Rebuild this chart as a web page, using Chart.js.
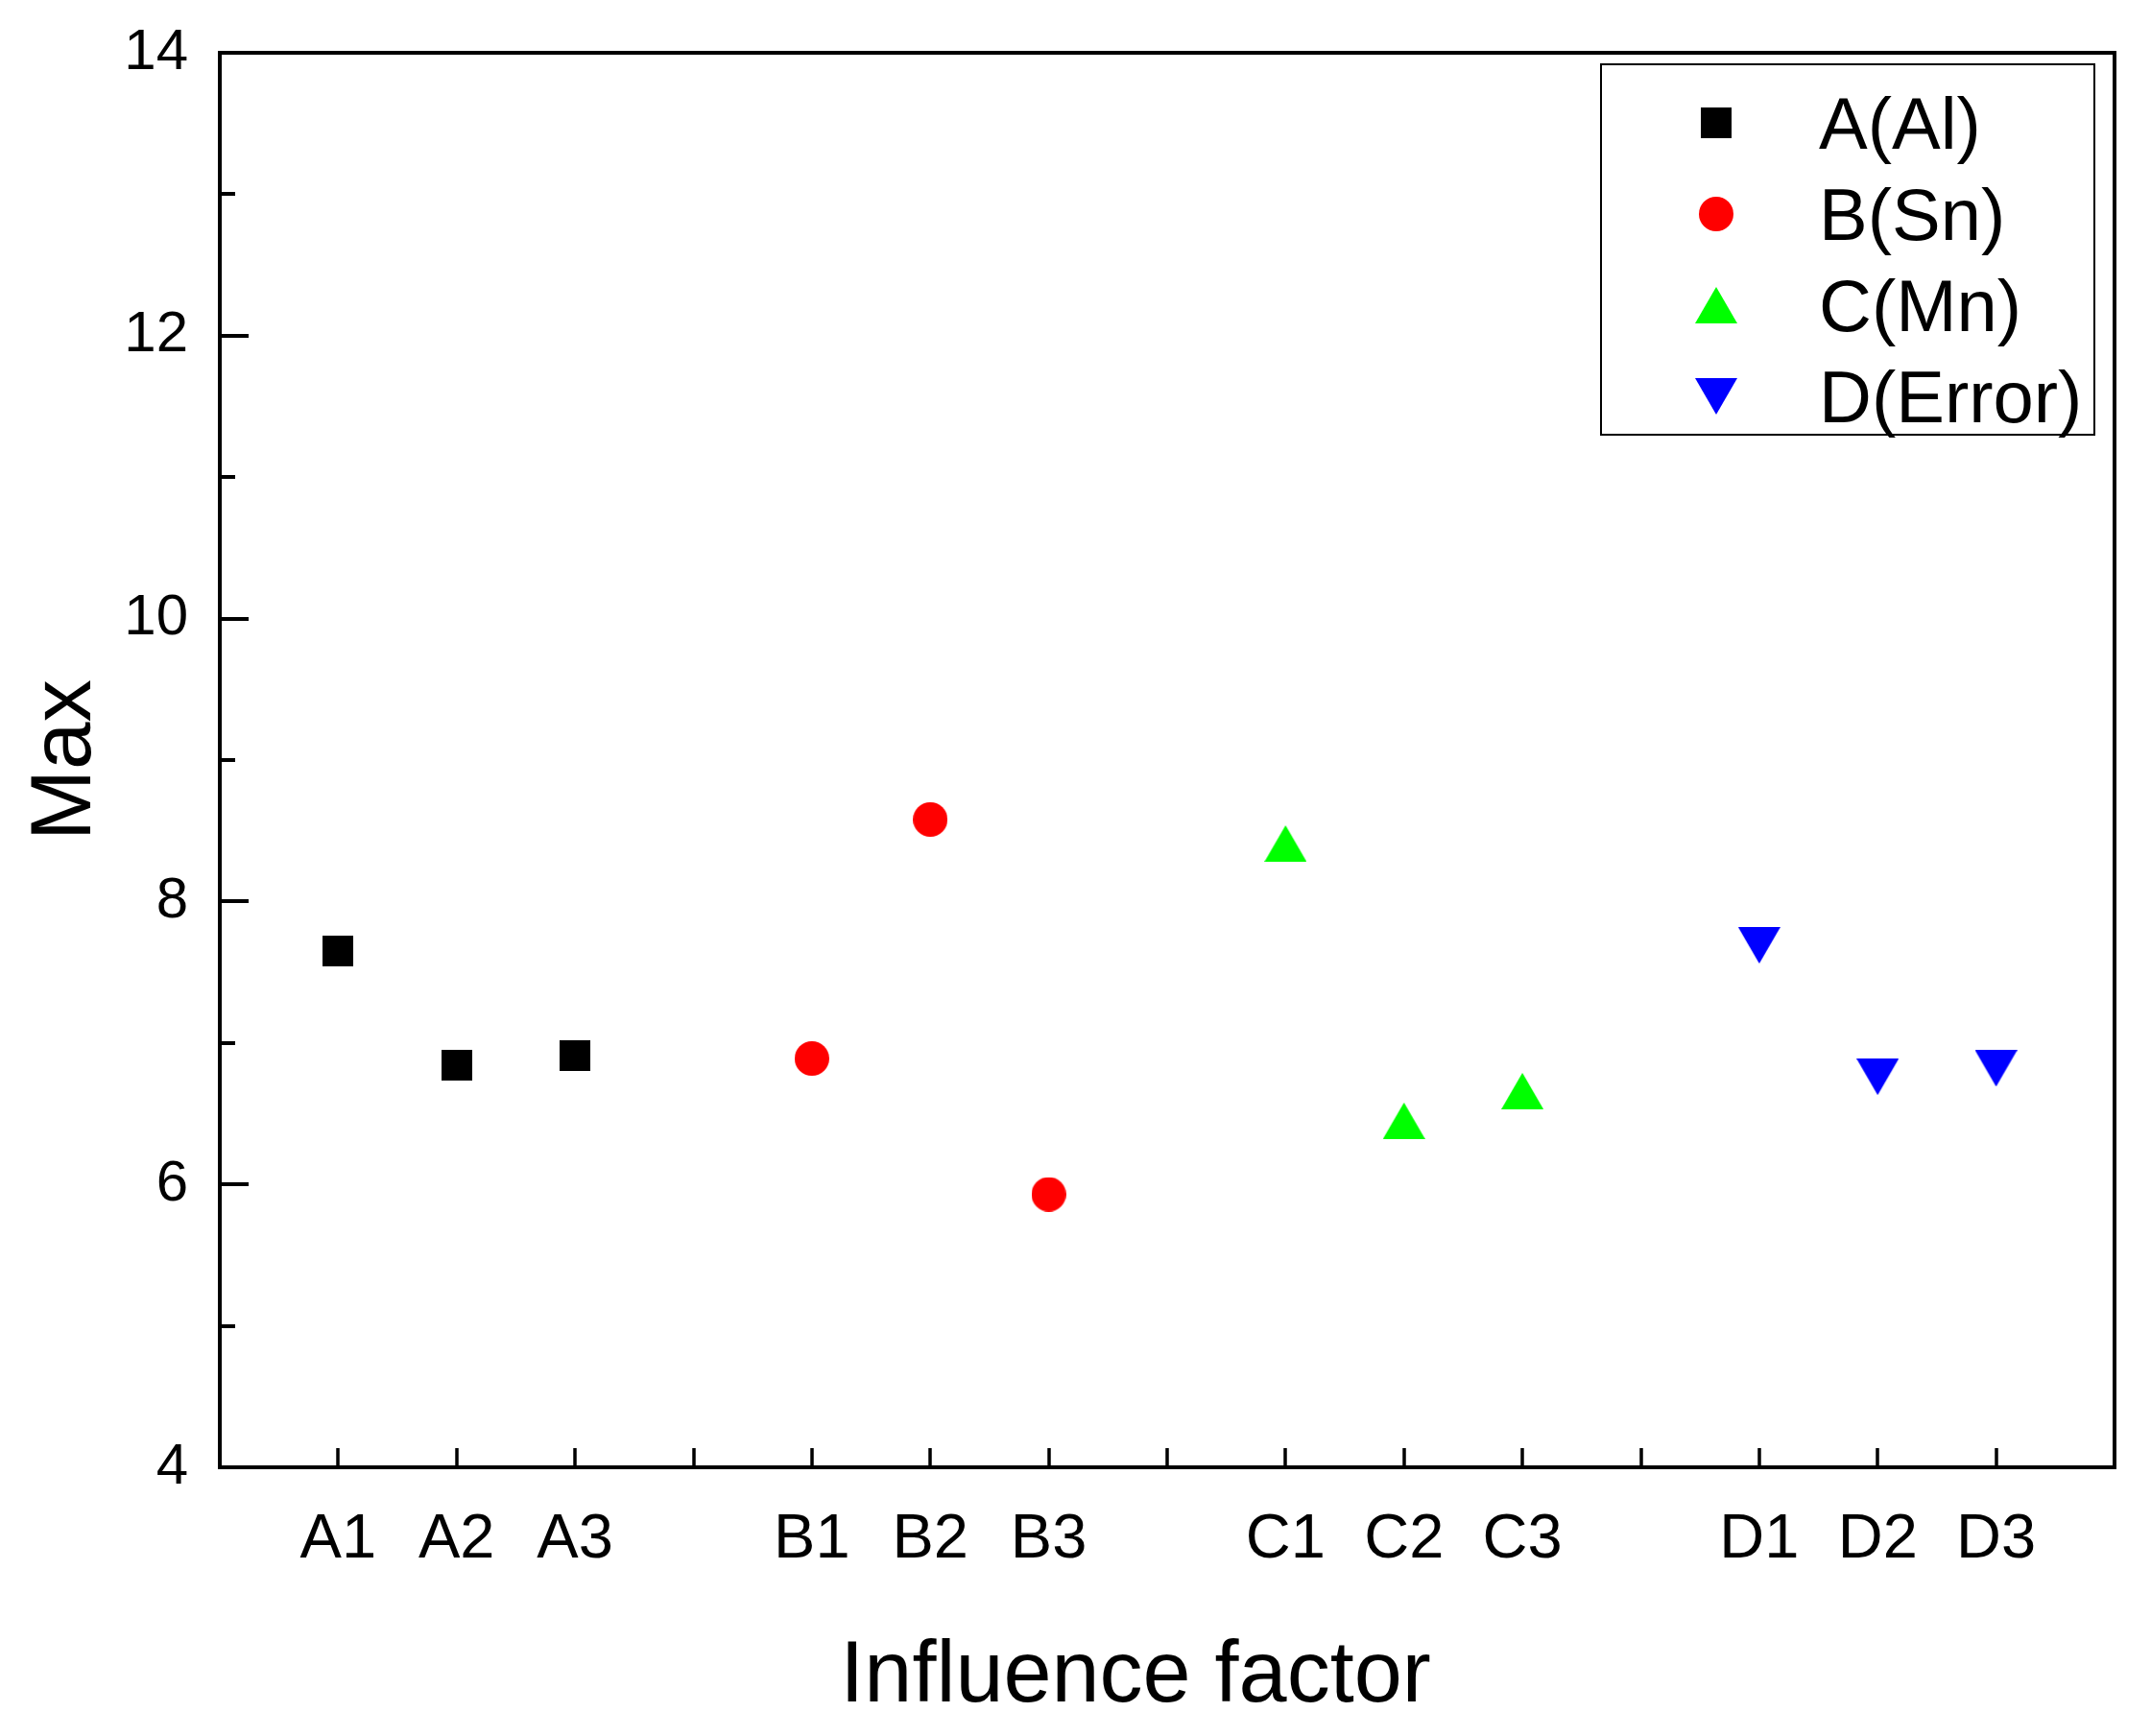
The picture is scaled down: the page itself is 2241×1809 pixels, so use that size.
<!DOCTYPE html>
<html>
<head>
<meta charset="utf-8">
<script src="https://cdn.jsdelivr.net/npm/chart.js@4"></script>
<style>
    html, body { margin: 0; padding: 0; background: #ffffff; }
    canvas { display: block; }
</style>
</head>
<body>
<canvas id="chart" width="2241" height="1809"></canvas>
<script>
// x axis positions (empty strings are the gaps between the factor groups)
const tickLabels = ['', 'A1', 'A2', 'A3', '', 'B1', 'B2', 'B3', '', 'C1', 'C2', 'C3', '', 'D1', 'D2', 'D3', ''];

const alLevels = ['A1', 'A2', 'A3'];
const alValues = [7.65, 6.84, 6.91];

const snLevels = ['B1', 'B2', 'B3'];
const snValues = [6.89, 8.58, 5.93];

const mnLevels = ['C1', 'C2', 'C3'];
const mnValues = [8.41, 6.45, 6.66];

const errLevels = ['D1', 'D2', 'D3'];
const errValues = [7.69, 6.76, 6.82];

const seriesNames = ['A(Al)', 'B(Sn)', 'C(Mn)', 'D(Error)'];

const xTitle = 'Influence factor';
const yTitle = 'Max';

const yMin = 4;
const yMax = 14;

const FONT = "'Liberation Sans', Arial, sans-serif";


// markers drawn on small canvases so the shape is centred on its bounding box
function makeMarker(kind, color) {
    const c = document.createElement('canvas');
    let w, h;
    if (kind === 'square') { w = 32; h = 32; }
    else if (kind === 'circle') { w = 36; h = 36; }
    else { w = 44; h = 38; }
    c.width = w;
    c.height = h;
    const ctx = c.getContext('2d');
    ctx.fillStyle = color;
    ctx.beginPath();
    if (kind === 'square') {
        ctx.rect(0, 0, w, h);
    } else if (kind === 'circle') {
        ctx.arc(w / 2, h / 2, w / 2, 0, Math.PI * 2);
    } else if (kind === 'up') {
        ctx.moveTo(w / 2, 0);
        ctx.lineTo(w, h);
        ctx.lineTo(0, h);
    } else {
        ctx.moveTo(0, 0);
        ctx.lineTo(w, 0);
        ctx.lineTo(w / 2, h);
    }
    ctx.closePath();
    ctx.fill();
    return c;
}

function toPoints(levels, values) {
    return levels.map((l, i) => ({ x: l, y: values[i] }));
}

const markers = [
    makeMarker('square', '#000000'),
    makeMarker('circle', '#ff0000'),
    makeMarker('up', '#00ff00'),
    makeMarker('down', '#0000ff'),
];

const data = {
    labels: tickLabels,
    datasets: [
        { label: seriesNames[0], data: toPoints(alLevels, alValues), pointStyle: markers[0] },
        { label: seriesNames[1], data: toPoints(snLevels, snValues), pointStyle: markers[1] },
        { label: seriesNames[2], data: toPoints(mnLevels, mnValues), pointStyle: markers[2] },
        { label: seriesNames[3], data: toPoints(errLevels, errValues), pointStyle: markers[3] },
    ],
};

// frame + inward tick marks, like the original plot
const frameTicks = {
    id: 'frameTicks',
    afterDraw(chart) {
        const { ctx, chartArea: a, scales: { x, y } } = chart;
        ctx.save();
        ctx.strokeStyle = '#000000';
        ctx.lineCap = 'butt';

        ctx.lineWidth = 4;
        y.ticks.forEach(t => {
            if (t.value === yMin || t.value === yMax) return;
            const py = Math.round(y.getPixelForValue(t.value));
            const len = t.value % 2 === 0 ? 30 : 16;
            ctx.beginPath();
            ctx.moveTo(a.left, py);
            ctx.lineTo(a.left + len, py);
            ctx.stroke();
        });

        ctx.lineWidth = 3.5;
        x.ticks.forEach((t, i) => {
            if (i === 0 || i === x.ticks.length - 1) return;
            const px = Math.round(x.getPixelForValue(t.value));
            ctx.beginPath();
            ctx.moveTo(px, a.bottom);
            ctx.lineTo(px, a.bottom - 20);
            ctx.stroke();
        });

        ctx.lineWidth = 4;
        ctx.strokeRect(a.left, a.top, a.right - a.left, a.bottom - a.top);

        // x axis title sits a little left of the axis centre in the original
        ctx.font = '90px ' + FONT;
        ctx.fillStyle = '#000000';
        ctx.textAlign = 'center';
        ctx.textBaseline = 'alphabetic';
        ctx.fillText(xTitle, (a.left + a.right) / 2 - 33, chart.height - 36);
        ctx.restore();
    }
};

// boxed legend in the upper right corner of the plot
const boxLegend = {
    id: 'boxLegend',
    afterDraw(chart) {
        const { ctx, chartArea: a } = chart;
        const left = a.right - 535;
        const top = a.top + 12;
        const width = 514;
        const height = 386;
        ctx.save();
        ctx.fillStyle = '#ffffff';
        ctx.fillRect(left, top, width, height);
        ctx.strokeStyle = '#000000';
        ctx.lineWidth = 2;
        ctx.strokeRect(left, top, width, height);

        ctx.font = '76px ' + FONT;
        ctx.fillStyle = '#000000';
        ctx.textAlign = 'left';
        ctx.textBaseline = 'alphabetic';
        chart.data.datasets.forEach((ds, i) => {
            const rowY = top + 61 + i * 95;
            const m = ds.pointStyle;
            ctx.drawImage(m, left + 120 - m.width / 2, rowY - m.height / 2);
            ctx.fillText(ds.label, left + 227, rowY + 27);
        });
        ctx.restore();
    }
};

const config = {
    type: 'scatter',
    data: data,
    options: {
        responsive: false,
        animation: false,
        layout: { padding: { left: 0, right: 38, top: 55, bottom: 0 } },
        plugins: {
            legend: { display: false },
            tooltip: { enabled: false },
        },
        scales: {
            x: {
                type: 'category',
                offset: false,
                grid: { display: false },
                border: { display: false },
                ticks: {
                    autoSkip: false,
                    maxRotation: 0,
                    padding: 29,
                    color: '#000000',
                    font: { family: FONT, size: 65, lineHeight: 1.2 },
                },
                title: { display: false },
                afterFit(scale) { scale.height = 280; },
            },
            y: {
                min: yMin,
                max: yMax,
                grid: { display: false },
                border: { display: false },
                ticks: {
                    stepSize: 1,
                    autoSkip: false,
                    padding: 25,
                    color: '#000000',
                    font: { family: FONT, size: 60, lineHeight: 0.5 },
                    callback: v => (v % 2 === 0 ? v : ''),
                },
                title: {
                    display: true,
                    text: yTitle,
                    color: '#000000',
                    font: { family: FONT, size: 89, lineHeight: 1 },
                    padding: { top: 25, bottom: 0 },
                },
                afterFit(scale) { scale.width = 229; },
            },
        },
    },
    plugins: [frameTicks, boxLegend],
};

const chartElement = document.getElementById('chart');
if (window.myChart) {
    window.myChart.destroy();
}
window.myChart = new Chart(chartElement, config);
</script>
</body>
</html>
